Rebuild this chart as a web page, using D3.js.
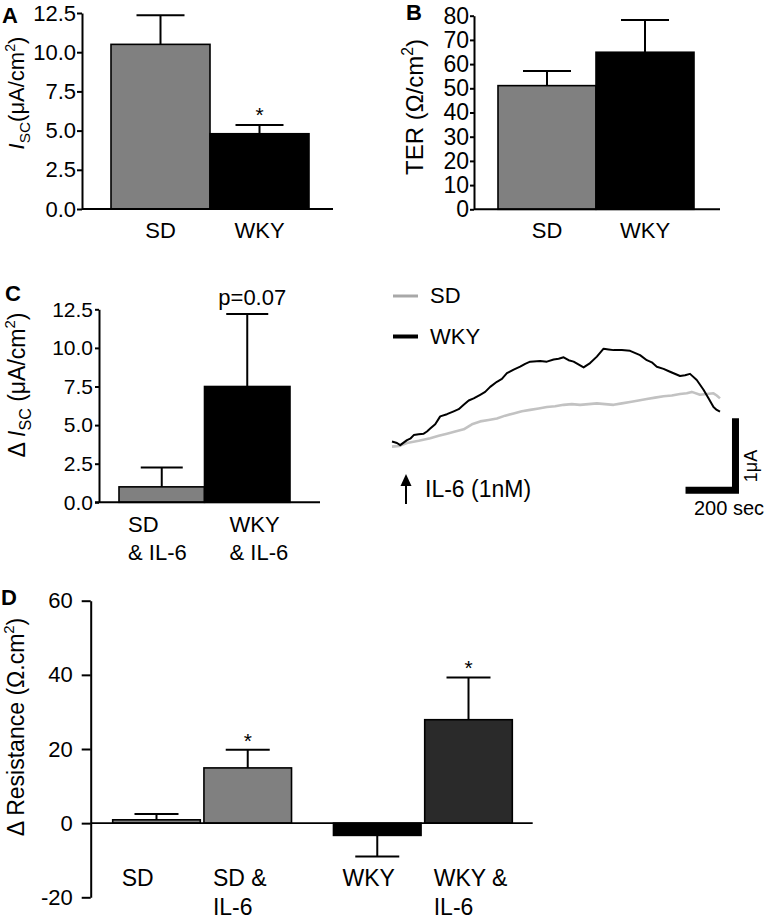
<!DOCTYPE html>
<html><head><meta charset="utf-8">
<script src="https://cdn.jsdelivr.net/npm/d3@7"></script>
<style>
body{margin:0;background:#fff}
svg{display:block}
text{font-family:"Liberation Sans",Arial,Helvetica,sans-serif;fill:#000}
</style>
</head><body>
<svg id="c" width="764" height="923"></svg>
<script>
// ---------------- DATA ----------------
// Panel A: basal Isc
const catsA = ["SD", "WKY"];
const iscA = [10.5, 4.8];
const semA = [1.85, 0.55];
const sigA = ["", "*"];
const ticksA = [0, 2.5, 5, 7.5, 10, 12.5];

// Panel B: TER
const catsB = ["SD", "WKY"];
const terB = [51.1, 64.9];
const semB = [6.0, 13.3];
const sigB = ["", ""];
const ticksB = [0, 10, 20, 30, 40, 50, 60, 70, 80];

// Panel C: delta Isc after IL-6
const catsC = ["SD & IL-6", "WKY & IL-6"];
const labelsC = [["SD", "& IL-6"], ["WKY", "& IL-6"]];
const dIscC = [1.0, 7.5];
const semC = [1.25, 4.7];
const noteC = ["", "p=0.07"];
const ticksC = [0, 2.5, 5, 7.5, 10, 12.5];

// Panel C trace (time in sec, current change in µA)
const legendC = ["SD", "WKY"];
const tWKY = [0, 20, 33, 60, 73, 87, 107, 127, 140, 153, 173, 193, 220, 247, 267, 287, 307, 327, 353, 373, 393, 420, 440, 460, 487, 513, 533, 553, 593, 620, 647, 667, 687, 707, 727, 767, 793, 820, 847, 867, 887, 920, 953, 993, 1020, 1040, 1060, 1087, 1113, 1153, 1173, 1193, 1220, 1247, 1267, 1287, 1300, 1313];
const iWKY = [0.02, 0.0, -0.03, 0.04, 0.06, 0.11, 0.12, 0.13, 0.16, 0.20, 0.26, 0.37, 0.40, 0.44, 0.47, 0.53, 0.59, 0.62, 0.67, 0.71, 0.78, 0.85, 0.89, 0.97, 1.02, 1.06, 1.10, 1.13, 1.14, 1.13, 1.16, 1.17, 1.19, 1.15, 1.13, 1.05, 1.11, 1.20, 1.31, 1.30, 1.29, 1.29, 1.28, 1.22, 1.15, 1.12, 1.06, 1.03, 0.99, 0.93, 0.94, 0.96, 0.875, 0.74, 0.62, 0.50, 0.46, 0.435];
const tSD = [0, 30, 60, 107, 153, 187, 220, 253, 287, 320, 353, 387, 420, 453, 487, 520, 553, 587, 620, 653, 687, 720, 753, 787, 820, 853, 887, 920, 953, 987, 1020, 1053, 1087, 1120, 1153, 1180, 1200, 1233, 1260, 1287, 1300, 1313];
const iSD = [-0.05, -0.04, 0.0, 0.03, 0.065, 0.10, 0.13, 0.16, 0.19, 0.26, 0.30, 0.32, 0.34, 0.38, 0.41, 0.44, 0.46, 0.48, 0.50, 0.51, 0.53, 0.54, 0.53, 0.54, 0.55, 0.54, 0.53, 0.55, 0.57, 0.59, 0.61, 0.63, 0.65, 0.66, 0.68, 0.69, 0.71, 0.67, 0.68, 0.69, 0.66, 0.62];
const scaleBarT = 200;   // sec
const scaleBarI = 1;     // µA

// Panel D: delta resistance
const groupsD = ["SD", "WKY"];
const treatD = ["control", "IL-6"];
const catsD = ["SD", "SD & IL-6", "WKY", "WKY & IL-6"];
const labelsD = [["SD"], ["SD &", "IL-6"], ["WKY"], ["WKY &", "IL-6"]];
const dResD = [0.9, 14.9, -3.3, 27.9];
const semD = [1.6, 4.9, 5.7, 11.4];
const sigD = ["", "*", "", "*"];
const ticksD = [-20, 0, 20, 40, 60];

// ---------------- HELPERS ----------------
const svg = d3.select("#c");

function rich(g, x, y, parts, o) {
  const size = o.size || 20;
  const t = g.append("text")
    .attr("transform", `translate(${x},${y})` + (o.rotate ? ` rotate(${o.rotate})` : ""))
    .attr("text-anchor", o.anchor || "start")
    .attr("font-size", size)
    .attr("font-weight", o.weight || "normal");
  let shift = 0;
  parts.forEach(p => {
    const [str, kind] = Array.isArray(p) ? p : [p, ""];
    const ts = t.append("tspan").text(str);
    let target = 0;
    if (kind === "sub") { ts.attr("font-size", size * 0.7); target = size * 0.28; }
    else if (kind === "sup") { ts.attr("font-size", size * 0.65); target = -size * 0.42; }
    else if (kind === "i") { ts.attr("font-style", "italic"); }
    if (target - shift !== 0) ts.attr("dy", target - shift);
    shift = target;
  });
  return t;
}

function barPanel(o) {
  const g = svg.append("g");
  const y = d3.scaleLinear().domain(o.yDomain).range(o.yRange);
  const x = o.x;
  o.cats.forEach((c, i) => {
    const v = o.vals[i];
    g.append("rect")
      .attr("x", x(c)).attr("width", x.bandwidth())
      .attr("y", Math.min(y(v), y(0)))
      .attr("height", Math.abs(y(v) - y(0)))
      .attr("fill", o.fills[i]).attr("stroke", "#000").attr("stroke-width", 1.6);
  });
  o.cats.forEach((c, i) => {
    const v = o.vals[i], e = o.errs[i];
    const cx = x(c) + x.bandwidth() / 2;
    const end = v >= 0 ? v + e : v - e;
    g.append("line").attr("x1", cx).attr("x2", cx).attr("y1", y(v)).attr("y2", y(end))
      .attr("stroke", "#000").attr("stroke-width", 2);
    g.append("line").attr("x1", cx - o.cap / 2).attr("x2", cx + o.cap / 2).attr("y1", y(end)).attr("y2", y(end))
      .attr("stroke", "#000").attr("stroke-width", 2);
    if (o.sig && o.sig[i]) {
      g.append("text").attr("x", cx).attr("y", y(end) + (o.sigDy || -2))
        .attr("text-anchor", "middle").attr("font-size", o.sigSize || 21).text(o.sig[i]);
    }
  });
  g.append("line").attr("x1", o.xLine[0]).attr("x2", o.xLine[1]).attr("y1", y(0)).attr("y2", y(0))
    .attr("stroke", "#000").attr("stroke-width", o.xLineW || 2);
  const ax = g.append("g").attr("transform", `translate(${o.axisX},0)`)
    .call(d3.axisLeft(y).tickValues(o.ticks).tickFormat(o.fmt)
      .tickSize(o.tickSize).tickSizeOuter(0).tickPadding(o.tickPad));
  ax.attr("font-family", null).attr("font-size", null);
  ax.select(".domain").attr("stroke", "#000").attr("stroke-width", 2);
  ax.selectAll(".tick line").attr("stroke", "#000").attr("stroke-width", 2);
  ax.selectAll(".tick text").attr("font-size", o.tickFont).attr("fill", "#000");
  return { g, x, y };
}

// ---------------- PANEL A ----------------
{
  const x = d3.scaleBand().domain(catsA).range([111, 309]).padding(0);
  const p = barPanel({
    cats: catsA, vals: iscA, errs: semA, sig: sigA, x,
    yDomain: [0, 12.5], yRange: [209, 13], ticks: ticksA, fmt: d3.format(".1f"),
    fills: ["#808080", "#000000"], cap: 48, xLine: [82, 333], axisX: 82,
    tickSize: 5, tickPad: 1, tickFont: 22, sigDy: -3
  });
  catsA.forEach(c => {
    p.g.append("text").attr("x", x(c) + x.bandwidth() / 2).attr("y", 238)
      .attr("text-anchor", "middle").attr("font-size", 22).text(c);
  });
  rich(p.g, 24, 93, [["I", "i"], ["SC", "sub"], "(μA/cm", ["2", "sup"], ")"], { size: 22, anchor: "middle", rotate: -90 });
  rich(p.g, 2, 23, ["A"], { size: 22, weight: "bold" });
}

// ---------------- PANEL B ----------------
{
  const x = d3.scaleBand().domain(catsB).range([498, 694]).padding(0);
  const p = barPanel({
    cats: catsB, vals: terB, errs: semB, sig: sigB, x,
    yDomain: [0, 80], yRange: [209.3, 15.7], ticks: ticksB, fmt: d3.format("d"),
    fills: ["#808080", "#000000"], cap: 48, xLine: [474, 720], axisX: 474,
    tickSize: 4, tickPad: 1, tickFont: 23
  });
  catsB.forEach(c => {
    p.g.append("text").attr("x", x(c) + x.bandwidth() / 2).attr("y", 238)
      .attr("text-anchor", "middle").attr("font-size", 22).text(c);
  });
  rich(p.g, 423, 107, ["TER (Ω/cm", ["2", "sup"], ")"], { size: 24, anchor: "middle", rotate: -90 });
  rich(p.g, 406, 20, ["B"], { size: 22, weight: "bold" });
}

// ---------------- PANEL C (bars) ----------------
{
  const x = d3.scaleBand().domain(catsC).range([119, 290]).padding(0);
  const p = barPanel({
    cats: catsC, vals: dIscC, errs: semC, x,
    yDomain: [0, 12.5], yRange: [502.3, 309.3], ticks: ticksC, fmt: d3.format(".1f"),
    fills: ["#808080", "#000000"], cap: 42, xLine: [95, 320], axisX: 99,
    tickSize: 4, tickPad: 2, tickFont: 21
  });
  const labelDx = [9, 25];
  catsC.forEach((c, i) => {
    if (noteC[i]) {
      p.g.append("text").attr("x", x(c) + x.bandwidth() / 2 + 5).attr("y", p.y(dIscC[i] + semC[i]) - 9)
        .attr("text-anchor", "middle").attr("font-size", 22).text(noteC[i]);
    }
    labelsC[i].forEach((ln, k) => {
      p.g.append("text").attr("x", x(c) + labelDx[i]).attr("y", 532 + k * 28)
        .attr("font-size", 22).text(ln);
    });
  });
  rich(p.g, 25, 385, ["Δ ", ["I", "i"], ["SC", "sub"], " (μA/cm", ["2", "sup"], ")"], { size: 23, anchor: "middle", rotate: -90 });
  rich(p.g, 5, 301, ["C"], { size: 22, weight: "bold" });
}

// ---------------- PANEL C (trace) ----------------
{
  const g = svg.append("g");
  const xt = d3.scaleLinear().domain([0, 1313]).range([392, 720]);
  const yi = d3.scaleLinear().domain([0, 1]).range([443, 371]);
  const line = d3.line().x(d => xt(d[0])).y(d => yi(d[1]));
  g.append("path").datum(tSD.map((t, i) => [t, iSD[i]])).attr("d", line)
    .attr("fill", "none").attr("stroke", "#c2c2c2").attr("stroke-width", 2.6).attr("stroke-linejoin", "round");
  g.append("path").datum(tWKY.map((t, i) => [t, iWKY[i]])).attr("d", line)
    .attr("fill", "none").attr("stroke", "#000").attr("stroke-width", 2).attr("stroke-linejoin", "round");
  const legCol = ["#a8a8a8", "#000"];
  const legW = [3, 4];
  legendC.forEach((s, i) => {
    const ly = 296 + i * 40.5;
    g.append("line").attr("x1", 393).attr("x2", 418).attr("y1", ly).attr("y2", ly)
      .attr("stroke", legCol[i]).attr("stroke-width", legW[i]);
    g.append("text").attr("x", 430).attr("y", ly + 7).attr("font-size", 22).text(s);
  });
  g.append("line").attr("x1", 406).attr("x2", 406).attr("y1", 504).attr("y2", 482)
    .attr("stroke", "#000").attr("stroke-width", 2);
  g.append("path").attr("d", "M406,474 L400.5,486 L411.5,486 Z").attr("fill", "#000");
  g.append("text").attr("x", 425).attr("y", 497).attr("font-size", 23).text("IL-6 (1nM)");
  const cornerT = 1375, cornerI = -0.655;
  g.append("path")
    .attr("d", `M${xt(cornerT - scaleBarT)},${yi(cornerI)} L${xt(cornerT)},${yi(cornerI)} L${xt(cornerT)},${yi(cornerI + scaleBarI)}`)
    .attr("fill", "none").attr("stroke", "#000").attr("stroke-width", 7).attr("stroke-linejoin", "miter");
  rich(g, 757, 466, ["1μA"], { size: 18, anchor: "middle", rotate: -90 });
  g.append("text").attr("x", 694).attr("y", 515).attr("font-size", 20).text("200 sec");
}

// ---------------- PANEL D ----------------
{
  const xo = d3.scaleBand().domain(groupsD).range([112.7, 512.3]).paddingInner(0.19).paddingOuter(0);
  const xi = d3.scaleBand().domain(treatD).range([0, xo.bandwidth()]).paddingInner(0.04).paddingOuter(0);
  const pos = c => { const i = catsD.indexOf(c); return xo(groupsD[Math.floor(i / 2)]) + xi(treatD[i % 2]); };
  pos.bandwidth = () => xi.bandwidth();
  const p = barPanel({
    cats: catsD, vals: dResD, errs: semD, sig: sigD, x: pos,
    yDomain: [-20, 60], yRange: [897.3, 600.7], ticks: ticksD, fmt: d => String(d),
    fills: ["#808080", "#808080", "#000000", "#2a2a2a"], cap: 44, xLine: [90.7, 532.7], xLineW: 1.6, axisX: 90.7,
    tickSize: 9, tickPad: 9, tickFont: 22, sigDy: -2
  });
  catsD.forEach((c, i) => {
    labelsD[i].forEach((ln, k) => {
      p.g.append("text").attr("x", pos(c) + 9).attr("y", 886 + k * 29)
        .attr("font-size", 23).text(ln);
    });
  });
  rich(p.g, 24, 727, ["Δ Resistance (Ω.cm", ["2", "sup"], ")"], { size: 23, anchor: "middle", rotate: -90 });
  rich(p.g, 1, 605, ["D"], { size: 22, weight: "bold" });
}
</script>
</body></html>
